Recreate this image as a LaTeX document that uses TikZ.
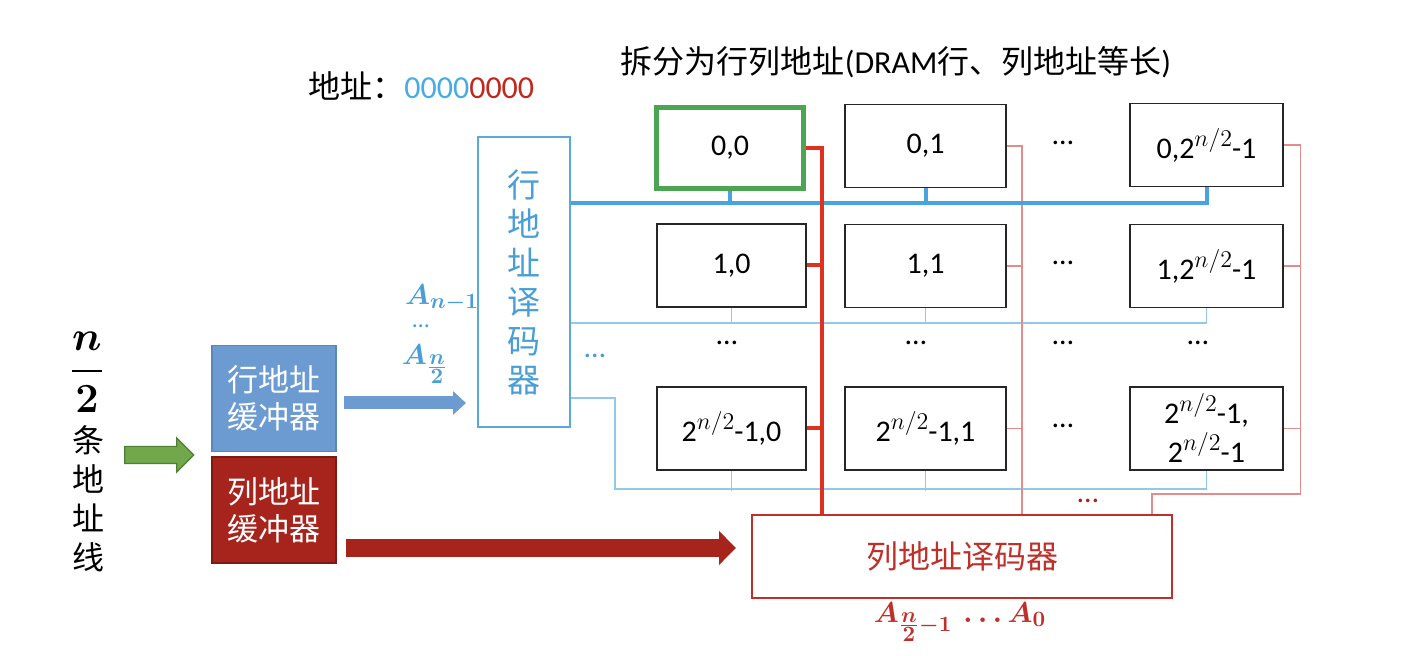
\documentclass[tikz,border=0pt]{standalone}
\usepackage{amsmath,amssymb}
\usepackage{fontspec}
\usepackage{tikz}
\usetikzlibrary{arrows.meta,shapes.arrows}
\setmainfont{Carlito}
\newfontfamily\cjk{Noto Sans CJK SC}

\definecolor{wordblue}{HTML}{48A4DE}
\definecolor{thinblue}{HTML}{92C8E8}
\definecolor{decblue}{HTML}{5AAAD8}
\definecolor{labblue}{HTML}{4A9ED6}
\definecolor{bufblue}{HTML}{6B9BD1}
\definecolor{bufblueline}{HTML}{5A86BA}
\definecolor{bufred}{HTML}{A6241C}
\definecolor{bufredline}{HTML}{7E1A14}
\definecolor{arrgreen}{HTML}{72A84C}
\definecolor{arrgreenline}{HTML}{4F7F33}
\definecolor{cellgreen}{HTML}{4CA552}
\definecolor{bitred}{HTML}{DF311F}
\definecolor{thinred}{HTML}{E28C8C}
\definecolor{decred}{HTML}{C0302A}
\definecolor{digblue}{HTML}{48ACE0}
\definecolor{digred}{HTML}{C0281E}

\newcommand{\twopow}{2\raisebox{0.4em}{\fontsize{13}{14}\selectfont$n/2$}}
\newcommand{\halfn}{\frac{\scriptstyle n}{\scriptstyle 2}}

\tikzset{
  cell/.style={draw=black!85,line width=0.8pt,minimum height=41.5pt,inner sep=0pt,align=center,font=\fontsize{15}{19.5}\selectfont},
  firstcol/.style={cell,minimum width=74.5pt},
  secondcol/.style={cell,minimum width=80.5pt},
  lastcol/.style={cell,minimum width=76.5pt},
  selcell/.style={cell,draw=cellgreen,line width=2.5pt,minimum width=73.5pt,minimum height=40.5pt},
  buffer/.style={minimum width=62pt,minimum height=53pt,line width=0.8pt,text=white,align=center,font=\cjk\fontsize{15.5}{18.5}\selectfont},
  wordline/.style={draw=wordblue,line width=2pt},
  thinword/.style={draw=thinblue,line width=0.7pt},
  bitline/.style={draw=bitred,line width=2pt},
  thinbit/.style={draw=thinred,line width=0.6pt},
  dots/.style={font=\fontsize{15}{18}\selectfont},
  biglab/.style={font=\fontsize{15}{18}\selectfont}
}

\begin{document}
\begin{tikzpicture}[x=0.5pt,y=-0.5pt]
  \useasboundingbox (0,0) rectangle (1426,656);

  \node (title) at (896,62) {\fontsize{16}{19}\selectfont{\cjk 拆分为行列地址}(DRAM{\cjk 行、列地址等长})};
  \node[anchor=west,inner sep=0pt] (addr) at (308,86) {\fontsize{16}{19}\selectfont{\cjk 地址：}\textcolor{digblue}{0000}\textcolor{digred}{0000}};

  \node[font=\fontsize{22}{25}\selectfont] (nfrac) at (87,372) {$\boldsymbol{\dfrac{n}{2}}$};
  \node[align=center,font=\cjk\fontsize{16}{19.5}\selectfont] (linetxt) at (88,499) {条\\地\\址\\线};

  \node[single arrow,draw=arrgreenline,fill=arrgreen,line width=0.6pt,inner sep=0pt,inner ysep=4pt,minimum height=34.5pt,single arrow head extend=4.25pt,single arrow head indent=0pt] (inarr) at (155,455) {};

  \node[buffer,draw=bufblueline,fill=bufblue] (rowbuf) at (274,398.5) {行地址\\缓冲器};
  \node[buffer,draw=bufredline,fill=bufred] (colbuf) at (274,510) {列地址\\缓冲器};

  \node[draw=decblue,line width=1pt,minimum width=46pt,minimum height=145pt,align=center,text=labblue,font=\cjk\fontsize{16.5}{19.5}\selectfont] (rowdec) at (524,282) {行\\地\\址\\译\\码\\器};
  \node[draw=decred,line width=1pt,minimum width=210pt,minimum height=41.5pt,text=decred,font=\cjk\fontsize{16}{19}\selectfont] (coldec) at (962,556.5) {列地址译码器};

  \node[biglab,text=labblue] (ahigh) at (442,298) {$\boldsymbol{A_{n-1}}$};
  \node[text=labblue,font=\fontsize{12}{14}\selectfont] (adots) at (421,326) {…};
  \node[biglab,text=labblue] (amid) at (425,364) {$\boldsymbol{A_{\halfn}}$};
  \node[biglab,text=decred] (alow) at (960,622) {$\boldsymbol{A_{\halfn-1}\,\ldots A_0}$};

  \node[selcell] (c00) at (730,148) {0,0};
  \node[secondcol] (c01) at (925.5,146) {0,1};
  \node[lastcol] (c0n) at (1206.5,145) {0,\twopow-1};
  \node[firstcol] (c10) at (731.5,265.5) {1,0};
  \node[secondcol] (c11) at (925.5,266) {1,1};
  \node[lastcol] (c1n) at (1206.5,266) {1,\twopow-1};
  \node[firstcol] (cn0) at (731.5,428.5) {\twopow-1,0};
  \node[secondcol] (cn1) at (925.5,428.5) {\twopow-1,1};
  \node[lastcol] (cnn) at (1206.5,428.5) {\twopow-1,\\\twopow-1};

  \node[dots] (d0) at (1063,143) {…};
  \node[dots] (d1) at (1063,263) {…};
  \node[dots] (d2) at (1063,426) {…};
  \node[dots] (d3) at (727,343) {…};
  \node[dots] (d4) at (916,343) {…};
  \node[dots] (d5) at (1063,343) {…};
  \node[dots] (d6) at (1198,343) {…};
  \node[dots,text=labblue] (d7) at (595,356) {…};
  \node[dots,text=bufred] (d8) at (1088,501) {…};

  \path (rowdec.north east) ++(0,67) coordinate (wl0);
  \path (rowdec.north east) ++(0,187) coordinate (wl1);
  \path (rowdec.north east) ++(0,262) coordinate (wl2);
  \path (coldec.north west) ++(71,0) coordinate (bl0);
  \path (coldec.north west) ++(271,0) coordinate (bl1);
  \path (coldec.north west) ++(401,0) coordinate (bln);
  \path (coldec.west) ++(0,-8.5) coordinate (colin);

  \draw[thinword] (wl1) -- (wl1 -| c1n.south) -- (c1n.south);
  \draw[thinword] (c10.south) -- (c10.south |- wl1);
  \draw[thinword] (c11.south) -- (c11.south |- wl1);
  \draw[thinword] (wl2) -- ++(44,0) -- ++(0,91) -| (cnn.south);
  \draw[thinword] (cn0.south) -- ++(0,20);
  \draw[thinword] (cn1.south) -- ++(0,20);

  \draw[thinbit] (c01.east) -| (bl1);
  \draw[thinbit] (c11.east) -- (c11.east -| bl1);
  \draw[thinbit] (cn1.east) -- (cn1.east -| bl1);
  \draw[thinbit] (c0n.east) -- ++(17,0) -- ++(0,349) -| (bln);
  \draw[thinbit] (c1n.east) -- ++(17,0);
  \draw[thinbit] (cnn.east) -- ++(17,0);

  \draw[wordline] (wl0) -- (wl0 -| c0n.south) -- (c0n.south);
  \draw[wordline] (c00.south) -- (c00.south |- wl0);
  \draw[wordline] (c01.south) -- (c01.south |- wl0);

  \draw[bitline] (c00.east) -| (bl0);
  \draw[bitline] (c10.east) -- (c10.east -| bl0);
  \draw[bitline] (cn0.east) -- (cn0.east -| bl0);

  \draw[draw=bufblue,line width=6.5pt,-{Triangle[length=6.5pt,width=11.5pt]},shorten <=3.5pt,shorten >=5.5pt] ([yshift=-2.25pt]rowbuf.east) -- ([yshift=-2.25pt]rowbuf.east -| rowdec.west);
  \draw[draw=bufred,line width=9pt,-{Triangle[length=8.5pt,width=16.5pt]},shorten <=4.5pt,shorten >=7.5pt] (colbuf.east |- colin) -- (colin);
\end{tikzpicture}
\end{document}
